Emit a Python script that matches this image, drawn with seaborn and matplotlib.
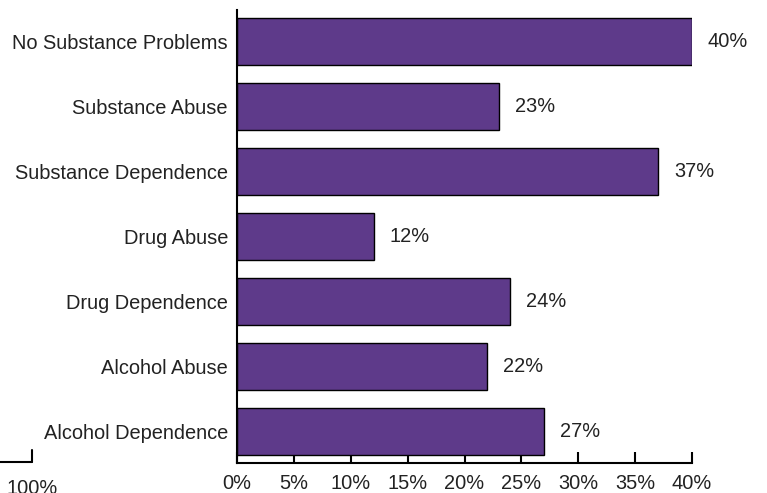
import matplotlib
matplotlib.use("Agg")
import matplotlib.pyplot as plt
from matplotlib.lines import Line2D
import seaborn as sns
import pandas as pd

categories = [
    "No Substance Problems",
    "Substance Abuse",
    "Substance Dependence",
    "Drug Abuse",
    "Drug Dependence",
    "Alcohol Abuse",
    "Alcohol Dependence",
]
percentages = [40, 23, 37, 12, 24, 22, 27]
x_ticks = [0, 5, 10, 15, 20, 25, 30, 35, 40]
x_tick_labels = ["0%", "5%", "10%", "15%", "20%", "25%", "30%", "35%", "40%"]

sns.set_theme(style="white")
plt.rcParams["font.family"] = ["Liberation Sans", "DejaVu Sans"]

text_color = "#222222"
bar_color = "#5e3a8a"
font_size = 14.4

df = pd.DataFrame({"category": categories, "pct": percentages})

fig = plt.figure(figsize=(7.67, 4.93), dpi=100)
ax = fig.add_axes([237 / 767, 30 / 493, 455 / 767, 453 / 493])

sns.barplot(data=df, x="pct", y="category", orient="h", color=bar_color,
            saturation=1, width=0.72, edgecolor="black", linewidth=1, ax=ax)

for i, v in enumerate(percentages):
    ax.text(v + 1.4, i, f"{v}%", va="center", ha="left",
            fontsize=font_size, color=text_color)

ax.set_xlim(0, 40)
ax.set_ylim(6.48, -0.48)
ax.set_xticks(x_ticks)
ax.set_xticklabels(x_tick_labels)
ax.set_xlabel("")
ax.set_ylabel("")

for side in ("top", "right"):
    ax.spines[side].set_visible(False)
for side in ("left", "bottom"):
    ax.spines[side].set_color("black")
    ax.spines[side].set_linewidth(1.5)

ax.tick_params(axis="x", direction="in", length=8, width=1.5, color="black",
               labelsize=font_size, labelcolor=text_color, pad=8, bottom=True)
ax.tick_params(axis="y", length=0, labelsize=font_size, labelcolor=text_color, pad=6.5)

# fragment of a neighbouring axis at the lower-left corner
fig.add_artist(Line2D([0, 32 / 767], [1 - 462 / 493, 1 - 462 / 493],
                      transform=fig.transFigure, color="black", linewidth=1.5))
fig.add_artist(Line2D([32 / 767, 32 / 767], [1 - 462 / 493, 1 - 450 / 493],
                      transform=fig.transFigure, color="black", linewidth=1.5))
fig.text(7 / 767, 1 - 489 / 493, "100%", ha="left", va="center",
         fontsize=font_size, color=text_color)

fig.savefig("out.png", dpi=100)
